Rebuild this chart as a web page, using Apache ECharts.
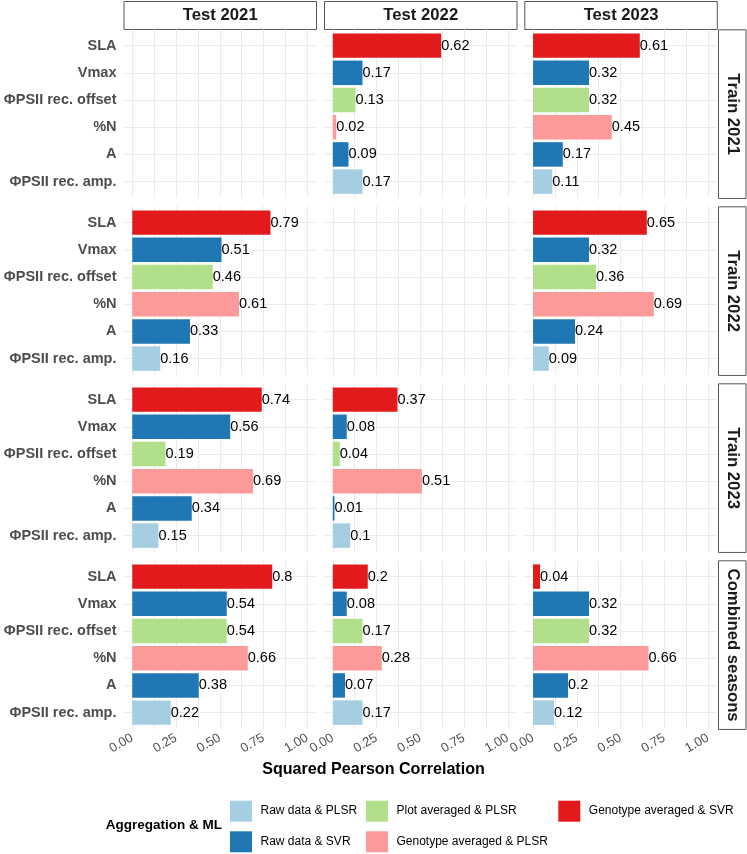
<!DOCTYPE html>
<html>
<head>
<meta charset="utf-8">
<title>Squared Pearson Correlation</title>
<script src="https://cdn.jsdelivr.net/npm/echarts@6/dist/echarts.min.js"></script>
<style>
  html, body { margin: 0; padding: 0; background: #fff; }
  #chart { width: 747px; height: 854px; }
</style>
</head>
<body>
<div id="chart"></div>
<script>
// facets
const tests = ['Test 2021', 'Test 2022', 'Test 2023'];
const trains = ['Train 2021', 'Train 2022', 'Train 2023', 'Combined seasons'];
const traits = ['SLA', 'Vmax', 'ΦPSII rec. offset', '%N', 'A', 'ΦPSII rec. amp.'];
// best aggregation & ML per trait (sets bar colour)
const traitMethod = ['Genotype averaged & SVR', 'Raw data & SVR', 'Plot averaged & PLSR',
  'Genotype averaged & PLSR', 'Raw data & SVR', 'Raw data & PLSR'];
const methods = ['Raw data & PLSR', 'Raw data & SVR', 'Plot averaged & PLSR',
  'Genotype averaged & PLSR', 'Genotype averaged & SVR'];
const methodColors = ['#A6CEE3', '#1F78B4', '#B2DF8A', '#FB9A99', '#E31A1C'];
const xTicks = [0, 0.25, 0.5, 0.75, 1];
const xGrid = [0, 0.125, 0.25, 0.375, 0.5, 0.625, 0.75, 0.875, 1];

// squared pearson correlation, trait order as in traits
const train2021Test2022 = [0.62, 0.17, 0.13, 0.02, 0.09, 0.17];
const train2021Test2023 = [0.61, 0.32, 0.32, 0.45, 0.17, 0.11];
const train2022Test2021 = [0.79, 0.51, 0.46, 0.61, 0.33, 0.16];
const train2022Test2023 = [0.65, 0.32, 0.36, 0.69, 0.24, 0.09];
const train2023Test2021 = [0.74, 0.56, 0.19, 0.69, 0.34, 0.15];
const train2023Test2022 = [0.37, 0.08, 0.04, 0.51, 0.01, 0.1];
const combinedTest2021 = [0.8, 0.54, 0.54, 0.66, 0.38, 0.22];
const combinedTest2022 = [0.2, 0.08, 0.17, 0.28, 0.07, 0.17];
const combinedTest2023 = [0.04, 0.32, 0.32, 0.66, 0.2, 0.12];

const panels = [
  [null, train2021Test2022, train2021Test2023],
  [train2022Test2021, null, train2022Test2023],
  [train2023Test2021, train2023Test2022, null],
  [combinedTest2021, combinedTest2022, combinedTest2023]
];

// layout
const font = '"Liberation Sans", Arial, sans-serif';
const unit = 27.2;
const panelH = 6.2 * unit;
const panelW = 192.5;
const colLeft = [123.5, 324, 524.3];
const rowTop = [29.3, 206.3, 383.3, 560.3];
const gridColor = '#EBEBEB';
const textGray = '#4D4D4D';

const grid = [], xAxis = [], yAxis = [], series = [], graphic = [];

for (let r = 0; r < trains.length; r++) {
  for (let c = 0; c < tests.length; c++) {
    const bg = grid.length;
    const last = r === trains.length - 1;
    // background grid: gridlines over the whole panel
    grid.push({ left: colLeft[c], top: rowTop[r], width: panelW, height: panelH });
    xAxis.push({
      gridIndex: bg, type: 'value', min: -0.05, max: 1.05,
      axisLine: { show: false },
      axisTick: { show: false, customValues: xGrid },
      splitLine: { show: true, lineStyle: { color: gridColor, width: 1 } },
      axisLabel: {
        show: last, customValues: xTicks, rotate: 30, margin: 8,
        color: textGray, fontSize: 13, fontFamily: font,
        formatter: v => v.toFixed(2)
      }
    });
    yAxis.push({
      gridIndex: bg, type: 'value', min: 0.4, max: 6.6,
      axisLine: { show: false }, axisLabel: { show: false },
      axisTick: { show: false, customValues: [1, 2, 3, 4, 5, 6] },
      splitLine: { show: true, lineStyle: { color: gridColor, width: 1 } }
    });

    // data grid: categories without the extra 0.1 expansion
    const dg = grid.length;
    grid.push({ left: colLeft[c], top: rowTop[r] + 0.1 * unit, width: panelW, height: 6 * unit });
    xAxis.push({
      gridIndex: dg, type: 'value', min: -0.05, max: 1.05,
      axisLine: { show: false }, axisTick: { show: false },
      axisLabel: { show: false }, splitLine: { show: false }
    });
    yAxis.push({
      gridIndex: dg, type: 'category', data: traits, inverse: true,
      axisLine: { show: false }, axisTick: { show: false }, splitLine: { show: false },
      axisLabel: {
        show: c === 0, margin: 7, color: textGray, fontWeight: 'bold',
        fontSize: 14.5, fontFamily: font
      }
    });

    const vals = panels[r][c];
    if (vals) {
      series.push({
        type: 'bar',
        xAxisIndex: dg, yAxisIndex: dg,
        barCategoryGap: '10%',
        silent: true,
        data: vals.map((v, i) => ({
          value: v,
          itemStyle: { color: methodColors[methods.indexOf(traitMethod[i])] }
        })),
        label: {
          show: true, position: 'right', distance: 0,
          color: '#000', fontSize: 14.5, fontFamily: font,
          formatter: p => String(p.value)
        }
      });
    }
  }
}

// strips
tests.forEach((t, c) => {
  graphic.push({
    type: 'group', left: colLeft[c], top: 1,
    children: [
      { type: 'rect', shape: { x: 0, y: 0, width: panelW, height: 28 },
        style: { fill: '#fff', stroke: '#555', lineWidth: 1 } },
      { type: 'text', x: panelW / 2, y: 14,
        style: { text: t, font: 'bold 16.7px ' + font, fill: '#1A1A1A', align: 'center', verticalAlign: 'middle' } }
    ]
  });
});
trains.forEach((t, r) => {
  graphic.push({
    type: 'group', left: 718, top: rowTop[r],
    children: [
      { type: 'rect', shape: { x: 0, y: 0, width: 27.5, height: panelH },
        style: { fill: '#fff', stroke: '#555', lineWidth: 1 } },
      { type: 'text', x: 13.75, y: panelH / 2, rotation: -Math.PI / 2,
        style: { text: t, font: 'bold 16.7px ' + font, fill: '#1A1A1A', align: 'center', verticalAlign: 'middle' } }
    ]
  });
});

// axis title
graphic.push({
  type: 'text', left: 'center', top: 762,
  style: { text: 'Squared Pearson Correlation', font: 'bold 16.1px ' + font, fill: '#000' }
});

// legend
graphic.push({
  type: 'text', left: 105.7, top: 818.5,
  style: { text: 'Aggregation & ML', font: 'bold 13.5px ' + font, fill: '#000' }
});
const legX = [230, 230, 366, 366, 558.3];
const legY = [800.7, 831.3, 800.7, 831.3, 800.7];
methods.forEach((m, i) => {
  graphic.push({
    type: 'rect', left: legX[i], top: legY[i],
    shape: { width: 22, height: 21 }, style: { fill: methodColors[i] }
  });
  graphic.push({
    type: 'text', left: legX[i] + 30.5, top: legY[i] + 4,
    style: { text: m, font: '12px ' + font, fill: '#000' }
  });
});

const myChart = echarts.init(document.getElementById('chart'), null, { renderer: 'canvas' });
myChart.setOption({
  animation: false,
  backgroundColor: '#fff',
  grid: grid,
  xAxis: xAxis,
  yAxis: yAxis,
  series: series,
  graphic: graphic
});
</script>
</body>
</html>
